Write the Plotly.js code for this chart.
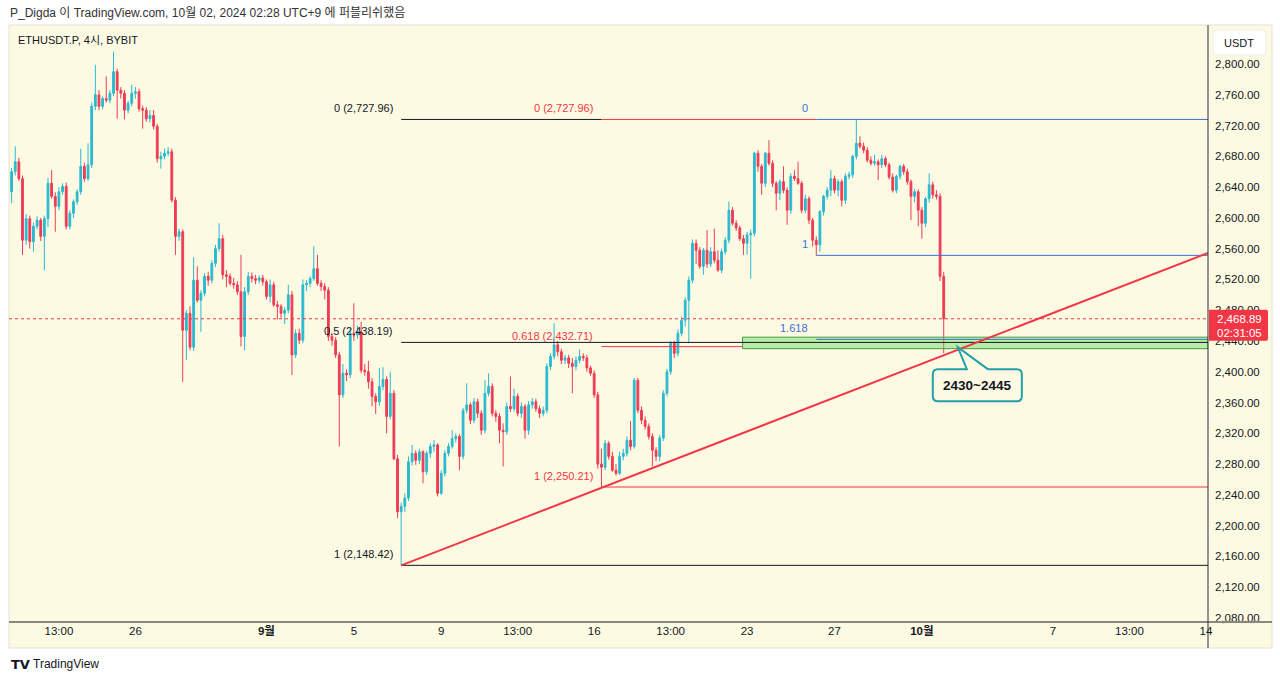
<!DOCTYPE html>
<html>
<head>
<meta charset="utf-8">
<script src="https://cdn.plot.ly/plotly-3.0.1.min.js"></script>
<style>
html,body{margin:0;padding:0;background:#ffffff;}
#chart{width:1280px;height:681px;}
</style>
</head>
<body>
<div id="chart"></div>
<script>
// ---------------- DATA ----------------
const firstCandle = '2024-08-20T09:00:00Z';   // first visible 4h candle (UTC+9 wall time)
const candleHours = 4;

const open = [
2634,2660,2673,2651,2571,2599,2569,2589,2597,2576,
2599,2645,2628,2615,2634,2641,2589,2606,2621,2634,
2667,2651,2669,2745,2760,2745,2755,2753,2762,2790,
2766,2762,2740,2749,2762,2764,2742,2740,2729,2733,
2719,2677,2680,2684,2686,2623,2576,2582,2454,2476,
2432,2519,2493,2502,2524,2519,2541,2560,2573,2526,
2524,2515,2513,2504,2446,2504,2524,2521,2519,2522,
2517,2498,2513,2487,2485,2476,2480,2500,2422,2450,
2441,2513,2515,2521,2534,2515,2511,2506,2446,2441,
2422,2370,2398,2396,2450,2448,2452,2402,2400,2387,
2368,2361,2381,2390,2342,2372,2287,2218,2225,2236,
2283,2294,2285,2296,2270,2294,2303,2305,2242,2268,
2294,2303,2313,2316,2290,2350,2357,2337,2361,2346,
2324,2372,2381,2346,2342,2324,2322,2355,2352,2368,
2346,2355,2324,2357,2361,2352,2346,2350,2407,2420,
2435,2426,2415,2418,2411,2407,2415,2420,2418,2405,
2398,2370,2280,2276,2307,2290,2272,2268,2290,2294,
2311,2303,2389,2350,2337,2329,2316,2298,2290,2314,
2372,2400,2437,2424,2450,2467,2493,2519,2567,2558,
2537,2558,2540,2556,2545,2532,2556,2571,2610,2593,
2587,2573,2567,2578,2580,2684,2667,2645,2684,2671,
2645,2632,2647,2636,2610,2654,2651,2645,2610,2625,
2597,2571,2565,2608,2628,2636,2651,2636,2647,2623,
2654,2656,2680,2697,2693,2688,2675,2671,2673,2669,
2677,2669,2653,2636,2654,2667,2660,2647,2628,2634,
2610,2593,2625,2643,2630,2628,2524
];
const high = [
2665,2693,2678,2655,2605,2603,2594,2602,2600,2603,
2652,2662,2633,2640,2645,2646,2610,2624,2637,2690,
2672,2697,2750,2799,2766,2758,2784,2766,2816,2794,
2770,2766,2752,2773,2770,2768,2746,2744,2740,2740,
2722,2686,2690,2692,2690,2627,2586,2585,2480,2485,
2549,2537,2506,2528,2530,2545,2565,2593,2578,2532,
2528,2522,2518,2552,2510,2530,2529,2526,2525,2526,
2520,2520,2517,2492,2488,2484,2513,2505,2455,2456,
2520,2519,2524,2563,2552,2519,2515,2510,2450,2445,
2426,2410,2403,2457,2489,2460,2465,2410,2414,2392,
2372,2405,2406,2394,2400,2376,2292,2230,2242,2290,
2305,2298,2300,2298,2297,2307,2311,2307,2272,2298,
2307,2324,2320,2319,2353,2385,2360,2366,2365,2350,
2389,2398,2385,2350,2346,2333,2360,2394,2378,2372,
2360,2358,2362,2366,2365,2356,2355,2411,2424,2463,
2440,2430,2422,2422,2418,2420,2429,2424,2422,2408,
2402,2374,2300,2311,2310,2296,2280,2296,2300,2316,
2336,2392,2392,2355,2342,2333,2320,2302,2318,2376,
2404,2440,2440,2455,2472,2497,2524,2572,2572,2562,
2561,2584,2562,2586,2558,2560,2575,2621,2614,2597,
2590,2578,2582,2585,2686,2688,2670,2686,2701,2675,
2648,2650,2667,2640,2658,2662,2673,2648,2630,2628,
2600,2576,2610,2630,2640,2662,2655,2650,2650,2658,
2660,2682,2727.96,2706,2698,2692,2680,2682,2676,2682,
2680,2672,2658,2656,2669,2670,2664,2650,2638,2637,
2614,2627,2658,2647,2636,2632,2530
];
const low = [
2619,2655,2648,2552,2565,2560,2556,2585,2570,2532,
2588,2625,2582,2610,2630,2585,2585,2600,2617,2630,
2647,2648,2665,2740,2740,2741,2750,2749,2758,2729,
2755,2728,2736,2745,2755,2738,2716,2725,2724,2715,
2672,2664,2676,2680,2620,2552,2570,2387,2415,2428,
2427,2490,2452,2498,2512,2515,2536,2556,2520,2510,
2512,2508,2500,2433,2428,2500,2516,2514,2515,2512,
2494,2490,2484,2468,2470,2462,2476,2396,2418,2436,
2437,2505,2510,2518,2512,2505,2494,2440,2434,2418,
2303,2366,2388,2392,2440,2443,2398,2395,2378,2355,
2345,2356,2376,2320,2338,2285,2210,2148.42,2218,2232,
2278,2279,2280,2255,2266,2288,2296,2238,2240,2264,
2290,2300,2308,2272,2286,2346,2332,2333,2340,2318,
2320,2368,2342,2335,2307,2277,2318,2348,2348,2342,
2340,2313,2318,2352,2348,2340,2342,2346,2402,2416,
2420,2410,2410,2405,2372,2402,2411,2414,2400,2395,
2366,2274,2250.21,2272,2286,2270,2265,2266,2285,2290,
2298,2300,2346,2332,2325,2312,2277,2284,2284,2310,
2368,2396,2418,2420,2446,2459,2437,2515,2540,2534,
2526,2535,2536,2541,2530,2528,2552,2567,2590,2583,
2570,2552,2552,2521,2576,2660,2630,2640,2668,2640,
2610,2623,2632,2591,2605,2648,2643,2606,2606,2592,
2563,2551.3,2556,2603,2624,2628,2632,2628,2615,2618,
2650,2652,2676,2690,2684,2672,2668,2668,2649,2665,
2666,2650,2633,2632,2650,2656,2643,2597,2620,2589,
2573,2588,2620,2625,2624,2518,2424
];
const close = [
2660,2673,2651,2571,2599,2569,2589,2597,2576,2599,
2645,2628,2615,2634,2641,2589,2606,2621,2634,2667,
2651,2669,2745,2760,2745,2755,2753,2762,2790,2766,
2762,2740,2749,2762,2764,2742,2740,2729,2733,2719,
2677,2680,2684,2686,2623,2576,2582,2454,2476,2432,
2519,2493,2502,2524,2519,2541,2560,2573,2526,2524,
2515,2513,2504,2446,2504,2524,2521,2519,2522,2517,
2498,2513,2487,2485,2476,2480,2500,2422,2450,2441,
2513,2515,2521,2534,2515,2511,2506,2446,2441,2422,
2370,2398,2396,2450,2448,2452,2402,2400,2387,2368,
2361,2381,2390,2342,2372,2287,2218,2225,2236,2283,
2294,2285,2296,2270,2294,2303,2305,2242,2268,2294,
2303,2313,2316,2290,2350,2357,2337,2361,2346,2324,
2372,2381,2346,2342,2324,2322,2355,2352,2368,2346,
2355,2324,2357,2361,2352,2346,2350,2407,2420,2435,
2426,2415,2418,2411,2407,2415,2420,2418,2405,2398,
2370,2280,2276,2307,2290,2272,2268,2290,2294,2311,
2303,2389,2350,2337,2329,2316,2298,2290,2314,2372,
2400,2437,2424,2450,2467,2493,2519,2567,2558,2537,
2558,2540,2556,2545,2532,2556,2571,2610,2593,2587,
2573,2567,2578,2580,2684,2667,2645,2684,2671,2645,
2632,2647,2636,2610,2654,2651,2645,2610,2625,2597,
2571,2565,2608,2628,2636,2651,2636,2647,2623,2654,
2656,2680,2697,2693,2688,2675,2671,2673,2669,2677,
2669,2653,2636,2654,2667,2660,2647,2628,2634,2610,
2593,2625,2643,2630,2628,2524,2468.89
];

const lastPrice = 2468.89;
const countdown = '02:31:05';

const xTickVals = ['2024-08-22 13:00','2024-08-26 01:00','2024-09-01 01:00','2024-09-05 01:00','2024-09-09 01:00','2024-09-12 13:00','2024-09-16 01:00','2024-09-19 13:00','2024-09-23 01:00','2024-09-27 01:00','2024-10-01 01:00','2024-10-07 01:00','2024-10-10 13:00','2024-10-14 01:00'];
const xTickText = ['13:00','26','<b>9월</b>','5','9','13:00','16','13:00','23','27','<b>10월</b>','7','13:00','14'];
const yTickVals = [2080,2120,2160,2200,2240,2280,2320,2360,2400,2440,2480,2520,2560,2600,2640,2680,2720,2760,2800];

// Fibonacci retracement tools
const fibBlackStart = '2024-09-07 05:00';
const fibBlackLevels = ['0','0.5','1'];
const fibBlackPrices = [2727.96, 2438.19, 2148.42];
const fibRedStart = '2024-09-16 09:00';
const fibRedLevels = ['0','0.618','1'];
const fibRedPrices = [2727.96, 2432.71, 2250.21];
const fibBlueStart = '2024-09-26 05:00';
const fibBlueLevels = ['0','1','1.618'];
const fibBluePrices = [2727.96, 2551.3, 2442.1];

// Zone and trend line
const zoneStart = '2024-09-22 20:00';
const zoneLow = 2430, zoneHigh = 2445;
const trendStartTime = '2024-09-07 05:00', trendStartPrice = 2148.42;
const trendEndPrice = 2554.4;
const calloutTip = ['2024-10-02 16:30', 2432];
const calloutText = '2430~2445';

const headerText = 'P_Digda 이 TradingView.com, 10월 02, 2024 02:28 UTC+9 에 퍼블리쉬했음';
const symbolText = 'ETHUSDT.P, 4시, BYBIT';

// ---------------- BUILD ----------------
const t0 = Date.parse(firstCandle);
function iso(ms){const d=new Date(ms);const p=n=>String(n).padStart(2,'0');
  return d.getUTCFullYear()+'-'+p(d.getUTCMonth()+1)+'-'+p(d.getUTCDate())+' '+p(d.getUTCHours())+':'+p(d.getUTCMinutes());}
const times = open.map((_,i)=>iso(t0+i*candleHours*3600000));
const xRange = ['2024-08-20 06:10','2024-10-14 03:20'];
const xEnd = xRange[1];

const BG = '#fdfae3';
const UP = '#2ab9d0', DOWN = '#ef3b55';
const RED = '#f23645', BLACK = '#131722', BLUE = '#3f6fd8';
const FONT = 'Liberation Sans, Arial, Noto Sans CJK KR, sans-serif';

const L=9, R=72, T=25, B=59, PW=1280-L-R, PH=681-T-B;
const px = x => (x-L)/PW;
const py = y => (681-B-y)/PH;

const fmt = v => v.toLocaleString('en-US',{minimumFractionDigits:2,maximumFractionDigits:2});

const trace = {
  type:'candlestick', x:times, open:open, high:high, low:low, close:close,
  increasing:{line:{color:UP,width:1},fillcolor:UP},
  decreasing:{line:{color:DOWN,width:1},fillcolor:DOWN},
  whiskerwidth:0, hoverinfo:'skip', showlegend:false
};

// where each line of a tool ends: a later tool drawn on the same level takes over
function lineEnd(price, laterStart, laterPrices){
  return (laterPrices && laterPrices.indexOf(price) >= 0) ? laterStart : xEnd;
}

const shapes = [];
const annotations = [];
// background panel
shapes.push({type:'rect',xref:'paper',yref:'paper',x0:0,x1:px(1272),y0:py(648),y1:1,fillcolor:BG,line:{color:'#e4e1cf',width:1},layer:'below'});
// last price dotted line
shapes.push({type:'line',xref:'paper',yref:'y',x0:0,x1:1,y0:lastPrice,y1:lastPrice,line:{color:RED,width:1,dash:'dot'}});
// red fib
fibRedPrices.forEach((p,k)=>{
  const end = (k===1) ? zoneStart : lineEnd(p, fibBlueStart, fibBluePrices);
  shapes.push({type:'line',xref:'x',yref:'y',x0:fibRedStart,x1:end,y0:p,y1:p,line:{color:RED,width:1}});
  annotations.push({xref:'x',yref:'y',x:fibRedStart,y:p,xanchor:'right',yanchor:'bottom',xshift:-6,yshift:3,showarrow:false,
    text:fibRedLevels[k]+' ('+fmt(p)+')',font:{size:11,color:RED,family:FONT}});
});
// zone box
shapes.push({type:'rect',xref:'x',yref:'y',x0:zoneStart,x1:xEnd,y0:zoneLow,y1:zoneHigh,fillcolor:'rgba(102,220,90,0.45)',line:{color:'#3f9e45',width:1}});
// black fib
fibBlackPrices.forEach((p,k)=>{
  const end = lineEnd(p, fibRedStart, fibRedPrices);
  shapes.push({type:'line',xref:'x',yref:'y',x0:fibBlackStart,x1:end,y0:p,y1:p,line:{color:BLACK,width:1}});
  annotations.push({xref:'x',yref:'y',x:fibBlackStart,y:p,xanchor:'right',yanchor:'bottom',xshift:-6,yshift:3,showarrow:false,
    text:fibBlackLevels[k]+' ('+fmt(p)+')',font:{size:11,color:BLACK,family:FONT}});
});
// blue fib
fibBluePrices.forEach((p,k)=>{
  shapes.push({type:'line',xref:'x',yref:'y',x0:fibBlueStart,x1:xEnd,y0:p,y1:p,line:{color:BLUE,width:1}});
  annotations.push({xref:'x',yref:'y',x:fibBlueStart,y:p,xanchor:'right',yanchor:'bottom',xshift:-6,yshift:3,showarrow:false,
    text:fibBlueLevels[k],font:{size:11,color:BLUE,family:FONT}});
});
// trend line
shapes.push({type:'line',xref:'x',yref:'y',x0:trendStartTime,y0:trendStartPrice,x1:xEnd,y1:trendEndPrice,line:{color:RED,width:2}});
// frame lines
shapes.push({type:'line',xref:'paper',yref:'paper',x0:0,x1:px(1272),y0:0,y1:0,line:{color:'#8a887c',width:2}});
shapes.push({type:'line',xref:'paper',yref:'paper',x0:1,x1:1,y0:py(648),y1:1,line:{color:'#2a2e39',width:1}});
// price label on axis
shapes.push({type:'path',xref:'paper',yref:'y',xsizemode:'pixel',ysizemode:'pixel',xanchor:1,yanchor:lastPrice,
  path:'M 1,9 L 58,9 Q 60,9 60,7 L 60,-20 Q 60,-22 58,-22 L 1,-22 Z',fillcolor:RED,line:{width:0}});
annotations.push({xref:'paper',yref:'y',x:1,y:lastPrice,xshift:31,yshift:0,xanchor:'center',yanchor:'middle',showarrow:false,
  text:fmt(lastPrice),font:{size:11.5,color:'#ffffff',family:FONT}});
annotations.push({xref:'paper',yref:'y',x:1,y:lastPrice,xshift:31,yshift:-14,xanchor:'center',yanchor:'middle',showarrow:false,
  text:countdown,font:{size:11.5,color:'#ffffff',family:FONT}});
// USDT button
shapes.push({type:'path',xref:'paper',yref:'paper',xsizemode:'pixel',ysizemode:'pixel',xanchor:1,yanchor:1,
  path:'M 9,-5 L 54,-5 Q 58,-5 58,-9 L 58,-26 Q 58,-30 54,-30 L 9,-30 Q 5,-30 5,-26 L 5,-9 Q 5,-5 9,-5 Z',fillcolor:'#ffffff',line:{color:'#f0eee4',width:1}});
annotations.push({xref:'paper',yref:'paper',x:1,y:1,xshift:31,yshift:-17.5,xanchor:'center',yanchor:'middle',showarrow:false,
  text:'USDT',font:{size:11,color:BLACK,family:FONT}});
// callout
shapes.push({type:'path',xref:'x',yref:'y',xsizemode:'pixel',ysizemode:'pixel',xanchor:calloutTip[0],yanchor:calloutTip[1],
  path:'M -20,-22 L 9,-22 L 0,0 L 30,-22 L 59,-22 Q 64,-22 64,-27 L 64,-49 Q 64,-54 59,-54 L -20,-54 Q -25,-54 -25,-49 L -25,-27 Q -25,-22 -20,-22 Z',
  fillcolor:BG,line:{color:'#23a0a8',width:2}});
annotations.push({xref:'x',yref:'y',x:calloutTip[0],y:calloutTip[1],xshift:19.5,yshift:-38,xanchor:'center',yanchor:'middle',showarrow:false,
  text:'<b>'+calloutText+'</b>',font:{size:13.5,color:BLACK,family:FONT}});
// header texts
annotations.push({xref:'paper',yref:'paper',x:0,y:py(13),xanchor:'left',yanchor:'middle',xshift:-1,showarrow:false,
  text:headerText,font:{size:12,color:'#333333',family:FONT}});
annotations.push({xref:'paper',yref:'paper',x:px(17),y:py(40),xanchor:'left',yanchor:'middle',xshift:-1,showarrow:false,
  text:symbolText,font:{size:11,color:BLACK,family:FONT}});
annotations.push({xref:'paper',yref:'paper',x:0,y:py(664),xanchor:'left',yanchor:'middle',showarrow:false,
  text:'<b>TV</b>',font:{size:13,color:'#131722',family:'DejaVu Sans, sans-serif'}});
annotations.push({xref:'paper',yref:'paper',x:px(31),y:py(664),xanchor:'left',yanchor:'middle',showarrow:false,
  text:'TradingView',font:{size:12,color:'#131722',family:FONT}});

const layout = {
  width:1280, height:681,
  margin:{l:L,r:R,t:T,b:B,pad:0},
  paper_bgcolor:'#ffffff', plot_bgcolor:BG,
  font:{family:FONT,size:11.5,color:BLACK},
  showlegend:false, dragmode:false,
  xaxis:{type:'date',range:xRange,tickmode:'array',tickvals:xTickVals,ticktext:xTickText,
    showgrid:false,zeroline:false,showline:false,ticks:'',rangeslider:{visible:false},
    tickfont:{size:11.5,color:BLACK,family:FONT},fixedrange:true},
  yaxis:{side:'right',range:[2074.8,2850.7],tickmode:'array',tickvals:yTickVals,tickformat:',.2f',
    showgrid:false,zeroline:false,showline:false,ticks:'',ticklabelstandoff:6,
    tickfont:{size:11.5,color:BLACK,family:FONT},fixedrange:true},
  shapes:shapes, annotations:annotations
};

Plotly.newPlot('chart',[trace],layout,{staticPlot:true,displayModeBar:false});
</script>
</body>
</html>
